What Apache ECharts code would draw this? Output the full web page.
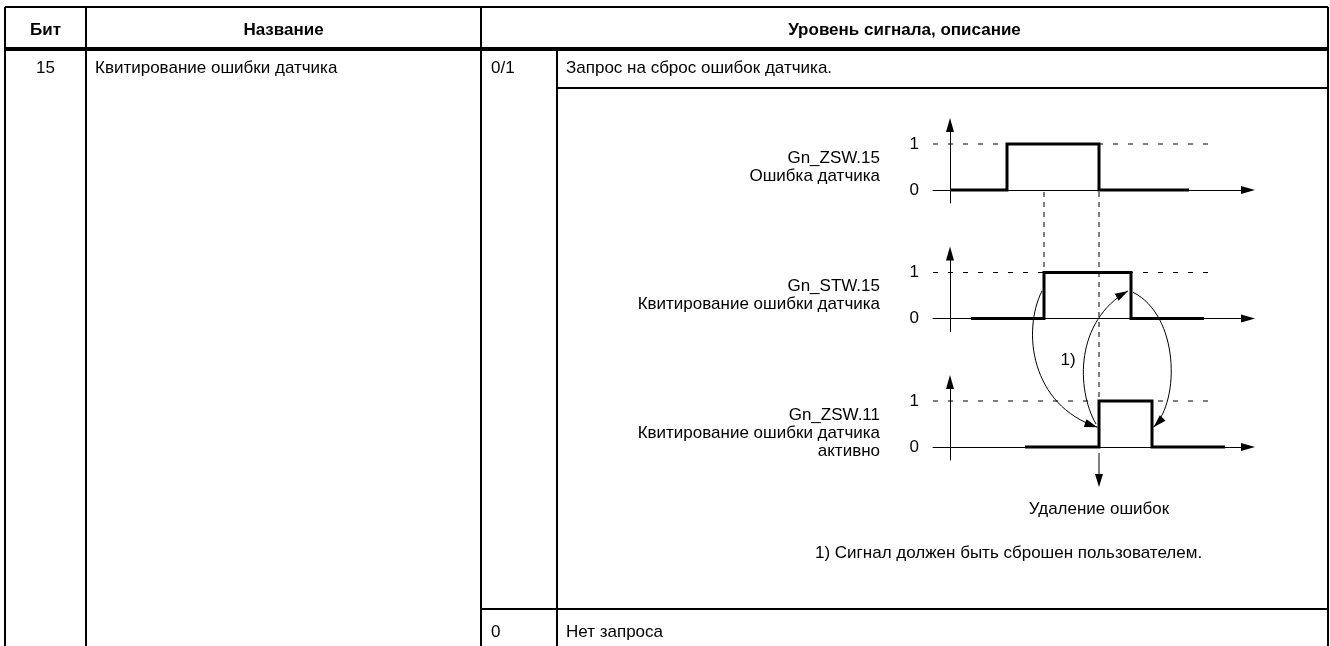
<!DOCTYPE html>
<html><head><meta charset="utf-8">
<script src="https://cdn.jsdelivr.net/npm/echarts@6/dist/echarts.min.js"></script>
<style>html,body{margin:0;padding:0;background:#fff}#c{width:1330px;height:646px}</style>
</head><body><div id="c"></div>
<script>
// ---------------- data ----------------
const headers = ['Бит', 'Название', 'Уровень сигнала, описание'];
const bitNo = '15';
const bitName = 'Квитирование ошибки датчика';
const levelCodes = ['0/1', '0'];
const levelTexts = ['Запрос на сброс ошибок датчика.', 'Нет запроса'];
const signalNames = [
  ['Gn_ZSW.15', 'Ошибка датчика'],
  ['Gn_STW.15', 'Квитирование ошибки датчика'],
  ['Gn_ZSW.11', 'Квитирование ошибки датчика', 'активно']
];
// transition times (arbitrary time units) and levels after each transition
const sigTimes = [
  [0, 5.7, 14.9, 23.9],
  [2.1, 9.4, 18.1, 25.4],
  [7.5, 14.9, 20.2, 27.5]
];
const sigValues = [
  [0, 1, 0, 0],
  [0, 1, 0, 0],
  [0, 1, 0, 0]
];
const yTickValues = [0, 1];
const refLevel = 1;
const refLevelEnd = 26;
const syncTimes = [9.4, 14.9];     // dashed verticals
const syncToChart = [1, 2];         // chart where each dashed vertical ends
const clearTime = 14.9;
const clearText = 'Удаление ошибок';
const noteMark = '1)';
const noteText = '1) Сигнал должен быть сброшен пользователем.';
// causal arrows: [chart, time, level] -> [chart, time, level]
const arrowFrom = [[1, 9.2, 0.6], [2, 14.6, 0.5], [1, 18.3, 0.57]];
const arrowTo   = [[2, 14.75, 0.43], [1, 17.8, 0.6], [2, 20.35, 0.43]];

// ---------------- layout ----------------
const FONT = '"Liberation Sans", Arial, Helvetica, sans-serif';
const TFS = 17, DFS = 17;
const X0 = 933, XW = 315;
const unitY = 46;
const level0Y = [190, 318.5, 447];
const yMin = -13 / unitY, yMax = 65 / unitY;
const xMin = -1.7, xMax = 29.8;
const ctrl1 = [[-20, 40], [-20, -35], [46, 23]];
const ctrl2 = [[-67, -22], [-53, 30], [27, -27]];

const chart = echarts.init(document.getElementById('c'));

const grids = level0Y.map(y0 => ({
  left: X0, width: XW, top: y0 - yMax * unitY, height: (yMax - yMin) * unitY,
  containLabel: false, outerBoundsMode: 'none'
}));
const xAxes = grids.map((g, k) => ({
  type: 'value', gridIndex: k, min: xMin, max: xMax,
  axisLine: { show: true, onZero: true, symbol: ['none', 'triangle'], symbolSize: [8, 14],
    lineStyle: { color: '#000', width: 1 } },
  axisTick: { show: false }, axisLabel: { show: false }, splitLine: { show: false }
}));
const yAxes = grids.map((g, k) => ({
  type: 'value', gridIndex: k, min: yMin, max: yMax,
  axisLine: { show: true, onZero: true, symbol: ['none', 'triangle'], symbolSize: [8, 14],
    lineStyle: { color: '#000', width: 1 } },
  axisTick: { show: false }, splitLine: { show: false },
  axisLabel: { show: true, customValues: yTickValues, margin: 14, color: '#000',
    fontSize: DFS, fontFamily: FONT }
}));
const series = [];
sigTimes.forEach((ts, k) => {
  series.push({
    type: 'line', xAxisIndex: k, yAxisIndex: k, step: 'end', symbol: 'none',
    data: ts.map((t, i) => [t, sigValues[k][i]]),
    lineStyle: { color: '#000', width: 3, cap: 'butt', join: 'miter' }, z: 5, silent: true
  });
  series.push({
    type: 'line', xAxisIndex: k, yAxisIndex: k, symbol: 'none',
    data: [[xMin, refLevel], [refLevelEnd, refLevel]],
    lineStyle: { color: '#000', width: 1, type: [5, 10] }, z: 3, silent: true
  });
});

chart.setOption({
  animation: false, backgroundColor: '#fff',
  grid: grids, xAxis: xAxes, yAxis: yAxes, series: series
});

// ---------------- table + annotations ----------------
const P = (g, t, v) => chart.convertToPixel({ gridIndex: g }, [t, v]);
const els = [];
function line(x1, y1, x2, y2, w, dash) {
  els.push({ type: 'line', shape: { x1, y1, x2, y2 },
    style: { stroke: '#000', lineWidth: w, lineDash: dash || null }, z: 10, silent: true });
}
function text(s, x, y, align, size, bold) {
  els.push({ type: 'text', x: x, y: y, z: 20, silent: true,
    style: { text: s, fill: '#000', font: (bold ? 'bold ' : '') + size + 'px ' + FONT,
      textAlign: align, textVerticalAlign: 'middle', align: align, verticalAlign: 'middle' } });
}
function head(tip, dx, dy, len, hw) {
  const d = Math.hypot(dx, dy); const ux = dx / d, uy = dy / d;
  const bx = tip[0] - ux * len, by = tip[1] - uy * len;
  els.push({ type: 'polygon', z: 15, silent: true,
    shape: { points: [tip, [bx - uy * hw, by + ux * hw], [bx + uy * hw, by - ux * hw]] },
    style: { fill: '#000' } });
}

const L = 5, R = 1328, T = 7, HB = 49, R1B = 88, R2T = 609, C1 = 86, C2 = 481, C3 = 557, B = 646;
line(L, T, R, T, 2); line(L, T, L, B, 2); line(R, T, R, B, 2);
line(C1, T, C1, B, 2); line(C2, T, C2, B, 2); line(C3, HB, C3, B, 2);
line(L, HB, R, HB, 4); line(C3, R1B, R, R1B, 2); line(C2, R2T, R, R2T, 2);

text(headers[0], (L + C1) / 2, 30, 'center', TFS, true);
text(headers[1], (C1 + C2) / 2, 30, 'center', TFS, true);
text(headers[2], (C2 + R) / 2, 30, 'center', TFS, true);
text(bitNo, (L + C1) / 2, 68, 'center', TFS);
text(bitName, C1 + 9, 68, 'left', TFS);
text(levelCodes[0], C2 + 10, 68, 'left', TFS);
text(levelTexts[0], C3 + 9, 68, 'left', TFS);
text(levelCodes[1], C2 + 10, 632, 'left', TFS);
text(levelTexts[1], C3 + 9, 632, 'left', TFS);

// signal names
signalNames.forEach((names, k) => {
  const p0 = P(k, 0, 0);
  names.forEach((n, i) => text(n, 880, p0[1] - 32 + i * 18, 'right', DFS));
});

// dashed sync verticals
syncTimes.forEach((t, i) => {
  const a = P(0, t, 0), b = P(syncToChart[i], t, 1);
  line(a[0], a[1] + 2, b[0], b[1], 1, [5, 5]);
});
// clear arrow
const c0 = P(2, clearTime, 0);
line(c0[0], c0[1] + 6, c0[0], c0[1] + 36, 1);
head([c0[0], c0[1] + 40], 0, 1, 13, 4);
text(clearText, c0[0], c0[1] + 62, 'center', DFS);

// causal curves
arrowFrom.forEach((f, i) => {
  const s = P(f[0], f[1], f[2]), e = P(arrowTo[i][0], arrowTo[i][1], arrowTo[i][2]);
  const cp1 = [s[0] + ctrl1[i][0], s[1] + ctrl1[i][1]];
  const cp2 = [e[0] + ctrl2[i][0], e[1] + ctrl2[i][1]];
  els.push({ type: 'bezierCurve', z: 12, silent: true,
    shape: { x1: s[0], y1: s[1], x2: e[0], y2: e[1], cpx1: cp1[0], cpy1: cp1[1], cpx2: cp2[0], cpy2: cp2[1] },
    style: { stroke: '#000', lineWidth: 1, fill: null } });
  head(e, e[0] - cp2[0], e[1] - cp2[1], 13, 4);
});
const nm = P(1, 11.8, -0.9);
text(noteMark, nm[0], nm[1], 'center', DFS);
text(noteText, 815, c0[1] + 106, 'left', DFS);

chart.setOption({ graphic: { elements: els } });
</script></body></html>
